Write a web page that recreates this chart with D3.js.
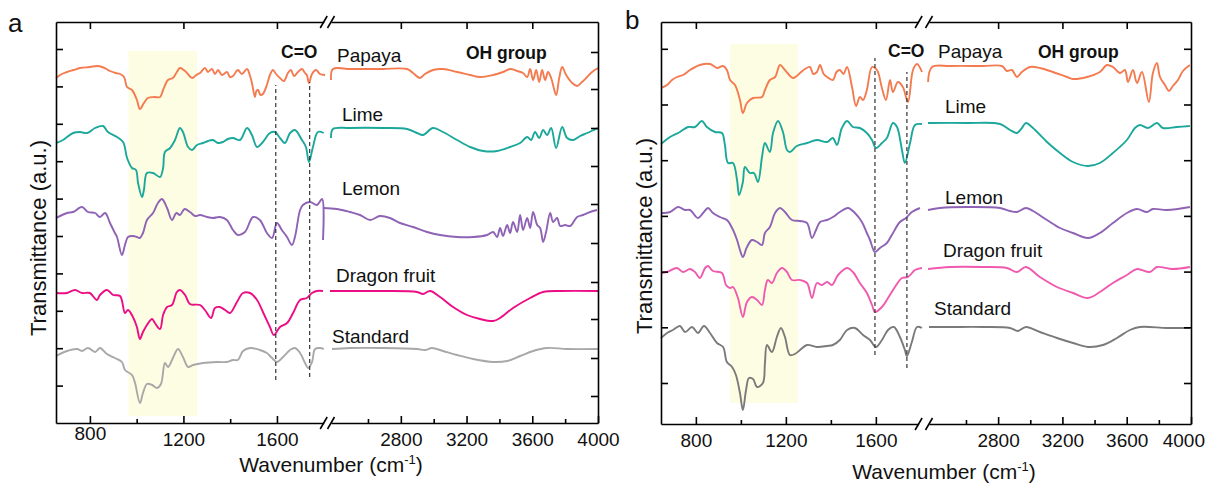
<!DOCTYPE html>
<html><head><meta charset="utf-8">
<script src="https://cdn.jsdelivr.net/npm/d3@7"></script>
<style>
body{margin:0;background:#fff;}
svg{display:block;font-family:"Liberation Sans",Arial,sans-serif;}
</style></head><body>
<svg id="chart" width="1207" height="483"></svg>
<script>
// ---------- DATA (wavenumber cm-1, transmittance a.u.) ----------
const seriesNames = ["Papaya","Lime","Lemon","Dragon fruit","Standard"];

// Panel a
const aPapayaL = [[655,345],[680,349],[702,351],[730,353],[758,355],[800,356],[830,357],[852,356],[870,354],[886,352],[910,350],[929,349],[946,346],[959,336],[980,333],[1001,323],[1014,314],[1031,320],[1048,325],[1075,326],[1100,326],[1113,333],[1134,343],[1155,345],[1172,351],[1185,355],[1207,352],[1237,345],[1255,348],[1271,350],[1292,355],[1305,351],[1322,354],[1335,349],[1348,353],[1365,348],[1386,351],[1399,346],[1412,347],[1433,353],[1450,349],[1472,354],[1485,347],[1493,340],[1506,326],[1512,332],[1519,333],[1530,328],[1540,329],[1557,338],[1570,348],[1583,353],[1596,349],[1613,345],[1630,342],[1647,350],[1660,353],[1673,347],[1690,351],[1707,354],[1720,350],[1728,348],[1737,340],[1750,349],[1767,353],[1784,349],[1806,348]];
const aPapayaR = [[2375,343],[2387,354],[2491,354],[2600,354],[2692,354],[2838,354],[2874,350],[2917,345],[2947,349],[2996,353],[3057,354],[3142,351],[3222,348],[3282,346],[3362,348],[3422,351],[3465,354],[3508,352],[3544,350],[3569,346],[3587,354],[3605,343],[3624,353],[3642,341],[3660,353],[3678,343],[3696,351],[3715,345],[3745,328],[3764,345],[3782,356],[3806,348],[3843,340],[3873,337],[3903,341],[3934,346],[3964,351],[4000,355]];
const aLimeL = [[655,280],[685,283],[728,290],[758,291],[788,290],[822,295],[856,297],[877,291],[916,286],[942,281],[959,265],[980,255],[997,253],[1006,240],[1023,226],[1031,233],[1044,250],[1070,250],[1100,246],[1113,255],[1121,271],[1143,275],[1164,283],[1185,295],[1198,291],[1220,276],[1237,273],[1258,278],[1284,280],[1305,282],[1326,283],[1348,280],[1369,281],[1390,284],[1412,285],[1442,283],[1472,295],[1493,288],[1515,276],[1540,281],[1570,290],[1592,291],[1613,285],[1634,280],[1656,290],[1677,293],[1707,283],[1724,276],[1737,261],[1754,276],[1775,291],[1800,290]];
const aLimeR = [[2375,285],[2387,294],[2491,295],[2692,295],[2838,294],[2899,290],[2935,288],[2996,295],[3057,291],[3142,283],[3222,276],[3301,272],[3386,272],[3465,276],[3526,280],[3569,286],[3593,283],[3617,291],[3642,285],[3666,293],[3690,288],[3715,295],[3745,275],[3782,296],[3812,285],[3849,283],[3891,287],[3934,290],[4000,295]];
const aLemonL = [[655,205],[702,210],[728,211],[766,216],[792,211],[822,210],[843,206],[865,210],[886,200],[907,190],[916,186],[937,168],[950,178],[963,186],[984,187],[1001,186],[1014,185],[1027,190],[1044,203],[1070,210],[1091,220],[1108,224],[1130,215],[1151,203],[1170,210],[1185,208],[1205,214],[1228,211],[1250,207],[1271,208],[1301,206],[1326,205],[1356,206],[1386,203],[1412,193],[1433,188],[1463,191],[1498,206],[1527,203],[1557,190],[1579,185],[1600,200],[1621,193],[1643,186],[1664,178],[1677,186],[1699,213],[1711,218],[1741,221],[1771,218],[1793,224],[1797,183]];
const aLemonR = [[2326,215],[2412,214],[2491,211],[2552,208],[2613,203],[2673,207],[2734,205],[2795,200],[2874,196],[2960,191],[3039,188],[3142,186],[3240,186],[3325,188],[3362,191],[3386,186],[3404,195],[3422,187],[3447,198],[3465,190],[3483,201],[3508,191],[3526,208],[3544,193],[3569,205],[3587,195],[3605,211],[3630,198],[3648,195],[3666,181],[3684,191],[3709,210],[3727,201],[3751,205],[3770,197],[3800,198],[3830,197],[3873,206],[3909,208],[3952,211],[3994,213]];
const aDragonL = [[655,130],[702,130],[736,133],[766,130],[800,130],[830,123],[843,128],[873,133],[899,128],[929,127],[950,110],[963,113],[984,106],[1001,96],[1014,84],[1027,91],[1044,98],[1066,104],[1078,100],[1100,94],[1113,108],[1130,116],[1151,118],[1172,131],[1185,133],[1207,128],[1228,119],[1271,118],[1292,113],[1318,105],[1335,115],[1356,116],[1378,113],[1399,110],[1429,121],[1455,130],[1485,130],[1515,123],[1540,111],[1570,96],[1587,88],[1613,96],[1643,100],[1669,110],[1699,123],[1728,125],[1750,130],[1771,132],[1797,132]];
const aDragonR = [[2369,132],[2491,132],[2692,132],[2899,131],[2935,129],[2978,132],[3039,126],[3118,116],[3203,108],[3282,104],[3362,102],[3404,105],[3483,115],[3587,125],[3666,131],[3770,132],[4000,132]];
const aStandardL = [[655,67],[702,72],[745,74],[766,72],[792,75],[822,71],[843,75],[873,69],[907,65],[937,61],[950,53],[980,48],[993,40],[1014,20],[1027,30],[1044,39],[1066,38],[1087,35],[1104,39],[1121,60],[1134,56],[1155,65],[1177,74],[1198,66],[1220,56],[1241,58],[1284,60],[1344,61],[1386,61],[1412,63],[1433,63],[1455,72],[1485,75],[1527,73],[1557,70],[1579,65],[1600,61],[1626,66],[1656,73],[1677,75],[1699,70],[1720,60],[1733,55],[1750,61],[1763,74],[1784,75],[1800,74]];
const aStandardR = [[2381,74],[2491,75],[2692,75],[2899,74],[2947,73],[2990,75],[3057,72],[3142,68],[3240,64],[3362,61],[3447,62],[3526,67],[3605,72],[3690,75],[3812,74],[4000,74]];

// Panel b
const bPapayaL = [[645,336],[672,339],[694,344],[716,347],[743,349],[774,354],[818,359],[863,360],[894,356],[921,358],[938,354],[952,344],[974,339],[996,324],[1009,311],[1027,321],[1054,326],[1094,327],[1107,334],[1129,344],[1152,347],[1174,359],[1196,354],[1232,346],[1263,351],[1285,355],[1307,357],[1322,350],[1338,352],[1352,359],[1368,350],[1383,347],[1409,344],[1425,352],[1440,354],[1456,350],[1472,357],[1494,337],[1512,318],[1529,327],[1543,324],[1560,334],[1583,357],[1605,354],[1627,336],[1645,324],[1663,344],[1676,332],[1698,342],[1720,337],[1743,322],[1765,354],[1783,360],[1805,352]];
const bPapayaR = [[2364,342],[2389,357],[2501,358],[2706,358],[2824,358],[2855,353],[2886,354],[2917,347],[2948,352],[2998,357],[3060,356],[3141,352],[3228,347],[3266,345],[3353,347],[3433,352],[3477,359],[3514,357],[3558,351],[3589,354],[3608,342],[3639,354],[3664,341],[3695,352],[3738,322],[3763,351],[3788,361],[3807,347],[3838,339],[3863,333],[3887,338],[3919,344],[3950,353],[3993,359]];
const bLimeL = [[645,280],[685,287],[729,292],[765,297],[796,297],[827,303],[849,297],[885,292],[916,291],[929,279],[943,261],[965,261],[983,244],[992,229],[1009,242],[1018,257],[1040,251],[1058,251],[1076,242],[1094,267],[1107,281],[1129,272],[1143,291],[1165,303],[1187,292],[1205,274],[1218,272],[1249,278],[1294,281],[1338,284],[1383,282],[1409,286],[1427,279],[1449,296],[1472,303],[1498,297],[1529,296],[1560,291],[1583,284],[1600,276],[1627,281],[1649,286],[1676,301],[1694,297],[1716,274],[1729,261],[1752,281],[1774,299],[1805,300]];
const bLimeR = [[2364,301],[2606,301],[2812,300],[2874,294],[2917,291],[2948,296],[2973,301],[3017,296],[3104,282],[3185,271],[3266,262],[3359,258],[3433,261],[3514,271],[3601,284],[3651,296],[3682,299],[3732,296],[3788,301],[3825,296],[3912,297],[3993,298]];
const bLemonL = [[645,211],[685,212],[721,217],[752,214],[774,214],[809,206],[832,211],[854,216],[876,211],[907,207],[938,204],[961,196],[983,184],[996,174],[1009,167],[1027,177],[1049,184],[1072,182],[1094,179],[1107,191],[1129,197],[1152,211],[1174,216],[1196,212],[1227,204],[1263,203],[1294,201],[1316,186],[1334,194],[1352,202],[1383,204],[1409,207],[1440,212],[1476,216],[1507,211],[1538,202],[1560,191],[1574,184],[1596,172],[1618,176],[1649,181],[1671,189],[1707,202],[1734,206],[1760,212],[1796,216]];
const bLemonR = [[2364,214],[2438,216],[2606,217],[2812,216],[2874,213],[2917,212],[2973,216],[3017,213],[3104,204],[3185,196],[3266,191],[3359,186],[3433,191],[3514,201],[3601,211],[3664,215],[3726,212],[3763,215],[3850,214],[3993,217]];
const bDragonL = [[645,151],[672,152],[716,156],[743,152],[774,155],[796,152],[818,146],[841,156],[854,158],[876,153],[916,151],[934,139],[952,136],[965,137],[987,126],[1009,107],[1027,122],[1049,127],[1072,124],[1094,119],[1107,134],[1120,144],[1138,141],[1160,151],[1183,156],[1205,152],[1227,144],[1263,144],[1294,141],[1316,126],[1338,141],[1360,139],[1383,142],[1405,139],[1432,149],[1472,156],[1498,152],[1529,141],[1560,131],[1583,119],[1596,112],[1627,117],[1654,126],[1685,137],[1716,146],[1743,147],[1774,154],[1805,156]];
const bDragonR = [[2364,155],[2501,157],[2706,157],[2855,156],[2917,152],[2973,157],[3060,147],[3166,137],[3266,131],[3359,126],[3433,132],[3514,141],[3601,149],[3664,155],[3744,152],[3788,157],[3887,155],[3993,157]];
const bStandardL = [[645,86],[672,91],[698,94],[729,98],[752,92],[783,97],[809,91],[836,98],[863,91],[894,81],[921,77],[938,62],[961,57],[978,49],[996,31],[1009,14],[1023,34],[1036,46],[1054,45],[1072,37],[1098,41],[1107,61],[1116,79],[1138,72],[1160,87],[1178,96],[1196,87],[1218,69],[1240,70],[1263,74],[1294,79],[1338,77],[1383,78],[1409,79],[1440,84],[1472,94],[1507,96],[1543,89],[1574,84],[1600,77],[1627,84],[1654,94],[1680,97],[1707,87],[1729,74],[1738,68],[1760,82],[1783,97],[1805,96]];
const bStandardR = [[2370,97],[2501,97],[2706,97],[2874,96],[2923,93],[2973,97],[3060,92],[3166,86],[3266,81],[3359,77],[3452,79],[3539,86],[3620,94],[3682,97],[3850,96],[3993,96]];

// ticks
const xTicksLeftMajor = [800,1200,1600];
const xTicksLeftMinor = [1000,1400];
const xTicksRightMajor = [2800,3200,3600,4000];
const xTicksRightMinor = [2600,3000,3400,3800];
const xTicksTopRight = [2800,3200,3600];
const aYTicksLeft = [37.4,74.8,112.2,149.6,187,224.4,261.8,299.2,336.6,374];
const aYTicksRight = [27,65,104,141,180,219,257,295,334,371];
const bYTicks = [41,96.7,152.4,208.1,263.8,319.5,375.2];

// annotations
const aHighlight = [965,1258,7,372];   // wn from, wn to, a.u. bottom, a.u. top
const bHighlight = [952,1254,21,380];
const aCO = [[1595,43,338],[1740,46,341]]; // wavenumber, a.u. from, a.u. to
const bCO = [[1596,69,366],[1738,56,352]];

// ---------- LAYOUT / STYLE ----------
const panels = [
  {
    letter:"a", letterPos:[8,32],
    plot:{left:56,right:598,top:22,bottom:423},
    xL:{domain:[655,1800],range:[56,323.7]},
    xR:{domain:[2375,4000],range:[331,598]},
    y:{domain:[0,401],range:[423,22]},
    yTicksLeft:aYTicksLeft, yTicksRight:aYTicksRight,
    highlight:aHighlight, dashed:aCO,
    data:[[aPapayaL,aPapayaR],[aLimeL,aLimeR],[aLemonL,aLemonR],[aDragonL,aDragonR],[aStandardL,aStandardR]],
    colors:["#F47A50","#1BA89B","#8E62B4","#EC0C84","#A8A8A8"],
    labelPos:[[337,62],[342,121],[342,195],[336,282],[332,343]],
    co:[281,58], oh:[466,59],
    tickLabelY:23, tickLabelShift:{800:-6},
    xTitle:[331,472], yTitle:[46,238]
  },
  {
    letter:"b", letterPos:[625,29],
    plot:{left:661,right:1191,top:22,bottom:424},
    xL:{domain:[645,1790],range:[661,918.6]},
    xR:{domain:[2370,4000],range:[929,1191]},
    y:{domain:[0,402],range:[424,22]},
    yTicksLeft:bYTicks, yTicksRight:bYTicks,
    highlight:bHighlight, dashed:bCO,
    data:[[bPapayaL,bPapayaR],[bLimeL,bLimeR],[bLemonL,bLemonR],[bDragonL,bDragonR],[bStandardL,bStandardR]],
    colors:["#F47A50","#1BA89B","#8E62B4","#F05AAE","#7A7A7A"],
    labelPos:[[938,58],[945,113],[945,204],[943,257],[934,315]],
    co:[888,57], oh:[1038,58],
    tickLabelY:23, tickLabelShift:{},
    xTitle:[944,479], yTitle:[652,236]
  }
];

const svg = d3.select("#chart");

panels.forEach(p => {
  const g = svg.append("g");
  const xL = d3.scaleLinear().domain(p.xL.domain).range(p.xL.range);
  const xR = d3.scaleLinear().domain(p.xR.domain).range(p.xR.range);
  const y = d3.scaleLinear().domain(p.y.domain).range(p.y.range);

  // highlight band
  const h = p.highlight;
  g.append("rect")
    .attr("x", xL(h[0])).attr("width", xL(h[1]) - xL(h[0]))
    .attr("y", y(h[3])).attr("height", y(h[2]) - y(h[3]))
    .attr("fill", "#FDFDE3");

  // curves
  const curve = d3.curveCatmullRom.alpha(0.5);
  const lineL = d3.line().x(d => xL(d[0])).y(d => y(d[1])).curve(curve);
  const lineR = d3.line().x(d => xR(d[0])).y(d => y(d[1])).curve(curve);
  p.data.forEach((seg, i) => {
    g.append("path").attr("d", lineL(seg[0])).attr("fill","none")
      .attr("stroke", p.colors[i]).attr("stroke-width", 1.9).attr("stroke-linejoin","round");
    g.append("path").attr("d", lineR(seg[1])).attr("fill","none")
      .attr("stroke", p.colors[i]).attr("stroke-width", 1.9).attr("stroke-linejoin","round");
  });

  // dashed C=O lines
  p.dashed.forEach(d => {
    g.append("line").attr("x1", xL(d[0])).attr("x2", xL(d[0]))
      .attr("y1", y(d[1])).attr("y2", y(d[2]))
      .attr("stroke", "#333").attr("stroke-width", 1.2).attr("stroke-dasharray", "4,3");
  });

  // axes
  const styleAxis = sel => {
    sel.selectAll(".domain").attr("stroke", "#000").attr("stroke-width", 1.6);
    sel.selectAll(".tick line").attr("stroke", "#000").attr("stroke-width", 1.6);
  };
  const bottomG = g.append("g").attr("transform", `translate(0,${p.plot.bottom})`);
  [[xL, xTicksLeftMajor],[xR, xTicksRightMajor]].forEach(([sc, tv]) => {
    const a = bottomG.append("g").call(d3.axisBottom(sc).tickValues(tv).tickSizeInner(-7).tickSizeOuter(0).tickFormat(d => d));
    styleAxis(a);
    a.selectAll(".tick text").attr("y", d => p.tickLabelY + (p.tickLabelShift[d] || 0)).attr("dy", 0)
      .attr("font-size", 19).attr("fill", "#111").attr("font-family", "Liberation Sans, Arial, sans-serif");
  });
  [[xL, xTicksLeftMinor],[xR, xTicksRightMinor]].forEach(([sc, tv]) => {
    const a = bottomG.append("g").call(d3.axisBottom(sc).tickValues(tv).tickSizeInner(-4).tickSizeOuter(0).tickFormat(""));
    a.select(".domain").remove();
    styleAxis(a);
  });
  const topG = g.append("g").attr("transform", `translate(0,${p.plot.top})`);
  [[xL, xTicksLeftMajor],[xR, xTicksTopRight]].forEach(([sc, tv]) => {
    const a = topG.append("g").call(d3.axisTop(sc).tickValues(tv).tickSizeInner(-7).tickSizeOuter(0).tickFormat(""));
    styleAxis(a);
  });
  const leftA = g.append("g").attr("transform", `translate(${p.plot.left},0)`)
    .call(d3.axisLeft(y).tickValues(p.yTicksLeft).tickSizeInner(-7).tickSizeOuter(0).tickFormat(""));
  styleAxis(leftA);
  const rightA = g.append("g").attr("transform", `translate(${p.plot.right},0)`)
    .call(d3.axisRight(y).tickValues(p.yTicksRight).tickSizeInner(-7).tickSizeOuter(0).tickFormat(""));
  styleAxis(rightA);

  // axis break marks
  [p.plot.top, p.plot.bottom].forEach(yy => {
    [p.xL.range[1], p.xR.range[0]].forEach(xx => {
      g.append("line").attr("x1", xx - 3.5).attr("y1", yy + 6).attr("x2", xx + 3.5).attr("y2", yy - 6)
        .attr("stroke", "#000").attr("stroke-width", 1.6);
    });
  });

  // series labels
  seriesNames.forEach((n, i) => {
    g.append("text").attr("x", p.labelPos[i][0]).attr("y", p.labelPos[i][1])
      .attr("font-size", 19).attr("fill", "#111").text(n);
  });
  g.append("text").attr("x", p.co[0]).attr("y", p.co[1]).attr("font-size", 17.5)
    .attr("font-weight", "bold").attr("fill", "#111").text("C=O");
  g.append("text").attr("x", p.oh[0]).attr("y", p.oh[1]).attr("font-size", 17.5)
    .attr("font-weight", "bold").attr("fill", "#111").text("OH group");

  // panel letter
  g.append("text").attr("x", p.letterPos[0]).attr("y", p.letterPos[1])
    .attr("font-size", 26).attr("fill", "#111").text(p.letter);

  // x title
  const xt = g.append("text").attr("x", p.xTitle[0]).attr("y", p.xTitle[1])
    .attr("text-anchor", "middle").attr("font-size", 21).attr("fill", "#111");
  xt.append("tspan").text("Wavenumber (cm");
  xt.append("tspan").attr("font-size", 13).attr("dy", -8).text("-1");
  xt.append("tspan").attr("font-size", 21).attr("dy", 8).text(")");

  // y title
  g.append("text").attr("transform", `translate(${p.yTitle[0]},${p.yTitle[1]}) rotate(-90)`)
    .attr("text-anchor", "middle").attr("font-size", 22).attr("fill", "#111")
    .text("Transmittance (a.u.)");
});

// keep tick labels inside canvas
svg.selectAll(".tick text").each(function() {
  const b = this.getBBox();
  const m = this.parentNode.getCTM();
  const right = m.e + b.x + b.width;
  if (right > 1205) d3.select(this).attr("x", 1205 - right);
});
</script>
</body></html>
